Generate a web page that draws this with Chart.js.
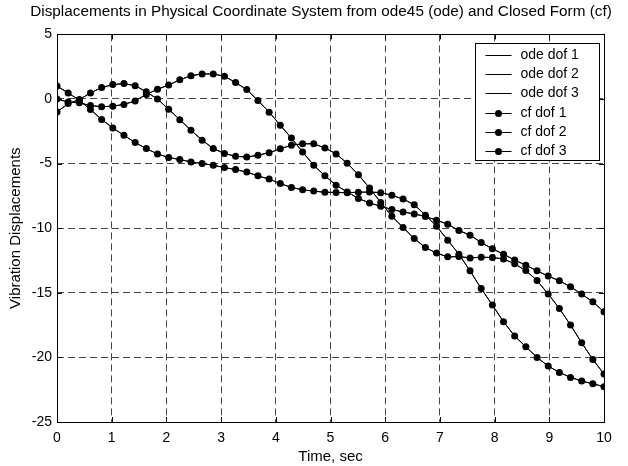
<!DOCTYPE html>
<html>
<head>
<meta charset="utf-8">
<script src="https://cdn.jsdelivr.net/npm/chart.js@4.4.1/dist/chart.umd.min.js"></script>
<style>
  html, body { margin: 0; padding: 0; background: #fff; }
  #wrap { width: 628px; height: 466px; position: relative; }
</style>
</head>
<body>
<div id="wrap"><canvas id="dispChart"></canvas></div>
<script>
// time samples (s) and displacements
const time = [0, 0.204, 0.408, 0.612, 0.816, 1.020, 1.224, 1.429, 1.633, 1.837,
  2.041, 2.245, 2.449, 2.653, 2.857, 3.061, 3.265, 3.469, 3.673, 3.878,
  4.082, 4.286, 4.490, 4.694, 4.898, 5.102, 5.306, 5.510, 5.714, 5.918,
  6.122, 6.327, 6.531, 6.735, 6.939, 7.143, 7.347, 7.551, 7.755, 7.959,
  8.163, 8.367, 8.571, 8.776, 8.980, 9.184, 9.388, 9.592, 9.796, 10];

const dof1 = [1.00, 0.47, -0.10, -0.82, -1.59, -2.24, -2.81, -3.37, -3.84, -4.25,
  -4.53, -4.69, -4.87, -5.00, -5.13, -5.31, -5.46, -5.66, -5.95, -6.20,
  -6.55, -6.85, -7.03, -7.13, -7.22, -7.24, -7.25, -7.22, -7.20, -7.25,
  -7.45, -7.75, -8.18, -8.99, -9.85, -10.93, -12.01, -13.30, -14.67, -15.95,
  -17.24, -18.35, -19.18, -20.00, -20.67, -21.16, -21.55, -21.83, -22.04, -22.27];

const dof2 = [0.00, -0.24, -0.30, -0.51, -0.60, -0.56, -0.42, -0.15, 0.35, 0.75,
  1.08, 1.48, 1.80, 1.94, 1.94, 1.76, 1.27, 0.73, -0.12, -1.02,
  -2.03, -3.03, -4.10, -5.13, -5.95, -6.67, -7.20, -7.70, -8.05, -8.30,
  -8.56, -8.74, -8.90, -9.10, -9.38, -9.69, -10.18, -10.54, -11.10, -11.60,
  -12.01, -12.47, -12.86, -13.30, -13.71, -14.07, -14.54, -15.10, -15.70, -16.47];

const dof3 = [-1.00, -0.36, -0.05, 0.47, 0.88, 1.11, 1.19, 1.03, 0.55, 0.00,
  -0.80, -1.60, -2.42, -3.19, -3.84, -4.22, -4.43, -4.50, -4.35, -4.16,
  -3.86, -3.58, -3.47, -3.47, -3.79, -4.25, -4.98, -5.86, -6.90, -8.01,
  -9.08, -9.95, -10.80, -11.50, -11.93, -12.22, -12.20, -12.30, -12.25, -12.27,
  -12.38, -12.76, -13.28, -14.05, -15.10, -16.21, -17.50, -18.87, -20.16, -21.29];

const odeLabels = ['ode dof 1', 'ode dof 2', 'ode dof 3'];
const cfLabels = ['cf dof 1', 'cf dof 2', 'cf dof 3'];
const xTicks = [0, 1, 2, 3, 4, 5, 6, 7, 8, 9, 10];
const yTicks = [5, 0, -5, -10, -15, -20, -25];

const FONT = "'Liberation Sans', Arial, Helvetica, sans-serif";

function toPoints(values) {
  return values.map((v, i) => ({ x: time[i], y: v }));
}

function odeSet(label, values) {
  return {
    label: label,
    data: toPoints(values),
    borderColor: '#000',
    borderWidth: 1,
    pointRadius: 0,
    tension: 0,
    fill: false
  };
}

function cfSet(label, values) {
  return {
    label: label,
    data: toPoints(values),
    borderColor: '#000',
    borderWidth: 1,
    pointRadius: 3.5,
    pointBackgroundColor: '#000',
    pointBorderWidth: 0,
    tension: 0,
    fill: false
  };
}

// axes box with inward tick marks, like the matlab axes
const boxPlugin = {
  id: 'axesBox',
  afterDatasetsDraw(chart) {
    const { ctx, chartArea: a, scales } = chart;
    ctx.save();
    ctx.strokeStyle = '#000';
    ctx.lineWidth = 1;
    ctx.beginPath();
    xTicks.forEach(t => {
      const px = Math.round(scales.x.getPixelForValue(t)) + 0.5;
      ctx.moveTo(px, a.bottom); ctx.lineTo(px, a.bottom - 5);
      ctx.moveTo(px, a.top); ctx.lineTo(px, a.top + 5);
    });
    yTicks.forEach(t => {
      const py = Math.round(scales.y.getPixelForValue(t)) + 0.5;
      ctx.moveTo(a.left, py); ctx.lineTo(a.left + 5, py);
      ctx.moveTo(a.right, py); ctx.lineTo(a.right - 5, py);
    });
    ctx.stroke();
    ctx.strokeRect(Math.round(a.left) + 0.5, Math.round(a.top) + 0.5,
      Math.round(a.right - a.left), Math.round(a.bottom - a.top));
    ctx.restore();
  }
};

// legend box in the top right corner of the axes
const legendPlugin = {
  id: 'boxLegend',
  afterDraw(chart) {
    const { ctx, chartArea: a } = chart;
    const left = Math.round(a.right - 129) + 0.5;
    const top = Math.round(a.top + 9) + 0.5;
    const w = 124, h = 117;
    ctx.save();
    ctx.fillStyle = '#fff';
    ctx.fillRect(left, top, w, h);
    ctx.strokeStyle = '#000';
    ctx.lineWidth = 1;
    ctx.strokeRect(left, top, w, h);
    ctx.font = '14px ' + FONT;
    ctx.textBaseline = 'middle';
    ctx.fillStyle = '#000';
    chart.data.datasets.forEach((ds, i) => {
      const y = Math.round(top + 11 + 19.35 * i) + 0.5;
      ctx.beginPath();
      ctx.moveTo(left + 10, y);
      ctx.lineTo(left + 36, y);
      ctx.stroke();
      if (ds.pointRadius > 0) {
        ctx.beginPath();
        ctx.arc(left + 23, y, ds.pointRadius, 0, Math.PI * 2);
        ctx.fill();
      }
      ctx.fillText(ds.label, left + 45, y);
    });
    ctx.restore();
  }
};

function renderChart() {
  const ctx = document.getElementById('dispChart').getContext('2d');
  new Chart(ctx, {
    type: 'line',
    data: {
      datasets: [
        odeSet(odeLabels[0], dof1),
        odeSet(odeLabels[1], dof2),
        odeSet(odeLabels[2], dof3),
        cfSet(cfLabels[0], dof1),
        cfSet(cfLabels[1], dof2),
        cfSet(cfLabels[2], dof3)
      ]
    },
    options: {
      responsive: true,
      maintainAspectRatio: false,
      animation: false,
      // left padding shifts the title centre to where matlab put it
      layout: { padding: { left: 14, right: 0, top: 0, bottom: 0 } },
      plugins: {
        legend: { display: false },
        tooltip: { enabled: false },
        title: {
          display: true,
          text: 'Displacements in Physical Coordinate System from ode45 (ode) and Closed Form (cf)',
          color: '#000',
          font: { family: FONT, size: 15.3, weight: 'normal' },
          padding: { top: 3, bottom: 13 }
        }
      },
      scales: {
        x: {
          type: 'linear',
          min: 0,
          max: 10,
          afterBuildTicks: s => { s.ticks = xTicks.map(v => ({ value: v })); },
          afterFit: s => { s.height = 44; },
          ticks: { color: '#000', font: { family: FONT, size: 14 }, padding: 8, maxRotation: 0 },
          grid: { color: '#454545', lineWidth: 1, drawTicks: false },
          border: { display: false, dash: [7, 4] },
          title: {
            display: true,
            text: 'Time, sec',
            color: '#000',
            font: { family: FONT, size: 15 },
            padding: { top: 0, bottom: 0 }
          }
        },
        y: {
          min: -25,
          max: 5,
          afterBuildTicks: s => { s.ticks = yTicks.map(v => ({ value: v })); },
          afterFit: s => { s.width = 43; },
          ticks: { color: '#000', font: { family: FONT, size: 14 }, padding: 5 },
          grid: { color: '#454545', lineWidth: 1, drawTicks: false },
          border: { display: false, dash: [7, 4] },
          title: {
            display: true,
            text: 'Vibration Displacements',
            color: '#000',
            font: { family: FONT, size: 15 },
            padding: { top: -7, bottom: 0 }
          }
        },
        // empty right-hand axis keeps the white margin right of the plot
        yRight: {
          position: 'right',
          display: true,
          afterFit: s => { s.width = 24; },
          ticks: { display: false },
          grid: { display: false, drawTicks: false },
          border: { display: false }
        }
      }
    },
    plugins: [boxPlugin, legendPlugin]
  });
}

document.addEventListener('DOMContentLoaded', renderChart);
</script>
</body>
</html>
